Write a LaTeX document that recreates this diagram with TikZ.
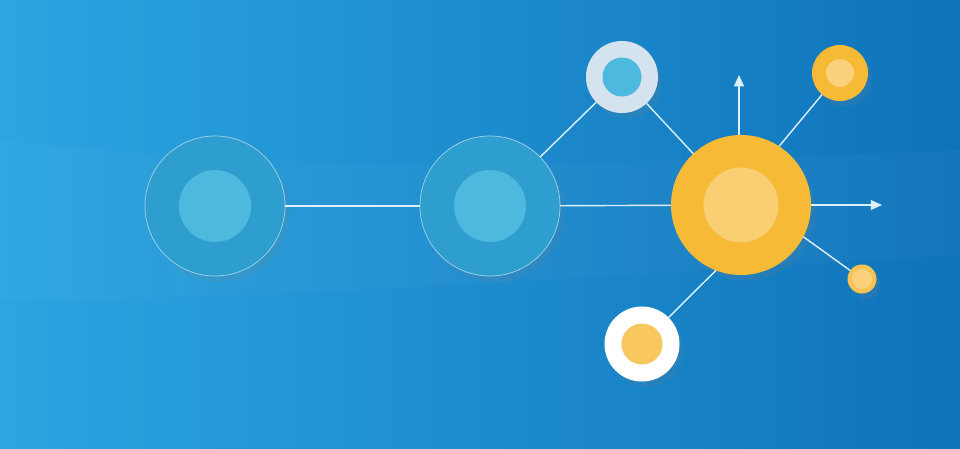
\documentclass[tikz,border=0pt]{standalone}
\usepackage{tikz}
\usetikzlibrary{arrows.meta,shadows}

\definecolor{bgleft}{HTML}{2CA5E1}
\definecolor{bgright}{HTML}{0F73BA}
\definecolor{ringblue}{HTML}{2E9ECE}
\definecolor{coreblue}{HTML}{4DB9DF}
\definecolor{ringgrey}{HTML}{D5E3EE}
\definecolor{ringyellow}{HTML}{F6BA36}
\definecolor{coreyellow}{HTML}{FAD07A}
\definecolor{linkwhite}{HTML}{DDF0FA}

\tikzset{
  ring/.style={circle, inner sep=0pt, outer sep=0pt, minimum size=#1,
    drop shadow={opacity=0.15, shadow xshift=3pt, shadow yshift=-4pt}},
  core/.style={circle, inner sep=0pt, minimum size=#1},
  link/.style={draw=linkwhite, line width=1pt},
}

\begin{document}
\begin{tikzpicture}[x=0.025cm, y=-0.025cm]
% Red de nodos con salidas
\shade[left color=bgleft, right color=bgright] (0,0) rectangle (960,448);
\fill[white, opacity=0.025] (0,140) .. controls (300,175) and (600,165) .. (960,150)
  -- (960,255) .. controls (600,275) and (300,300) .. (0,300) -- cycle;
\useasboundingbox (0,0) rectangle (960,448);

\node[ring=3.5cm, fill=ringblue, draw=white!55!ringblue, line width=0.5pt] (p1) at (215,206) {};
\node[core=1.8cm, fill=coreblue] (p1c) at (p1) {};
\node[ring=3.5cm, fill=ringblue, draw=white!55!ringblue, line width=0.5pt] (p2) at (490,206) {};
\node[core=1.8cm, fill=coreblue] (p2c) at (p2) {};
\node[ring=3.5cm, fill=ringyellow] (hub) at (741,205) {};
\node[core=1.875cm, fill=coreyellow!90!ringyellow] (hubc) at (hub) {};

\node[ring=1.8cm, fill=ringgrey] (top) at (622,77) {};
\node[core=0.975cm, fill=coreblue] (topc) at (top) {};
\node[ring=1.4cm, fill=ringyellow] (nw) at (840,73) {};
\node[core=0.7cm, fill=coreyellow] (nwc) at (nw) {};
\node[ring=0.725cm, fill=ringyellow!85!white] (ne) at (862,279) {};
\node[core=0.5cm, fill=coreyellow] (nec) at (ne) {};
\node[ring=1.875cm, fill=white] (low) at (642,344) {};
\node[core=1.025cm, fill=ringyellow!80!white] (lowc) at (low) {};

\coordinate (up) at (739,75);
\coordinate (out) at (882,205);

\draw[link] (p1) -- (p2);
\draw[link] (p2) -- (hub);
\draw[link] (p2) -- (top);
\draw[link] (top) -- (hub);
\draw[link] (hub.57) -- (nw);
\draw[link] (hub.-27) -- (ne);
\draw[link] (hub.249) -- (low);
\draw[link, -{Triangle[length=8pt, width=7pt]}] (hub.north -| up) -- (up);
\draw[link, -{Triangle[length=8pt, width=7pt]}] (hub.east) -- (out);
\end{tikzpicture}
\end{document}
